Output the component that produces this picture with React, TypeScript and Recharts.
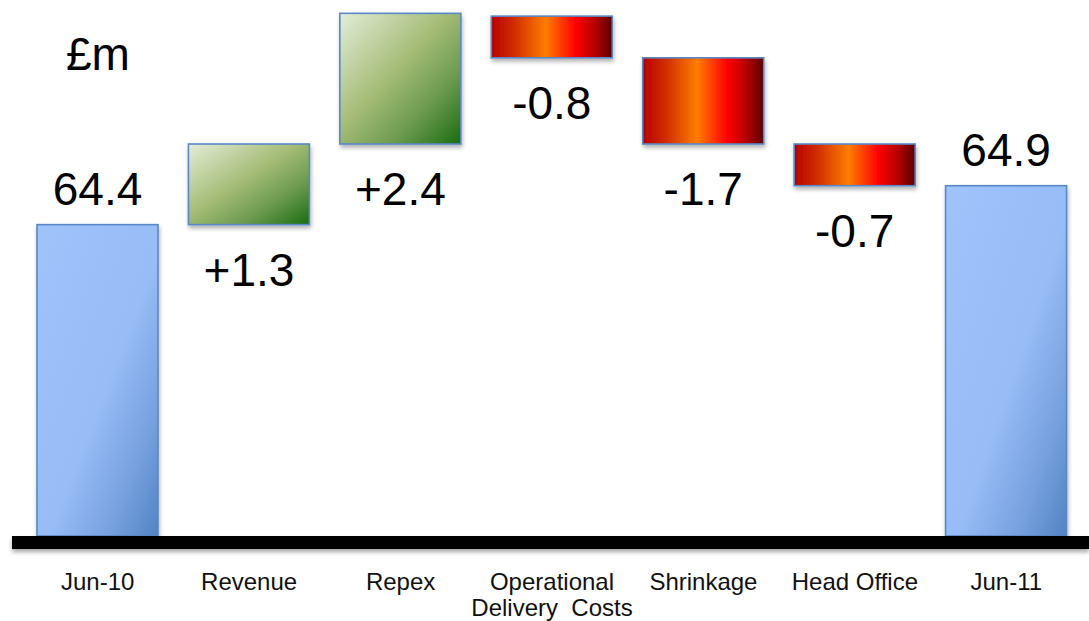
import { BarChart, Bar, XAxis, YAxis, ReferenceLine } from 'recharts';

// Waterfall of £m movements, Jun-10 to Jun-11.
// The vertical axis is broken: it starts at 58.7 so the small steps stay readable.

const categories = ['Jun-10', 'Revenue', 'Repex', 'Operational\nDelivery  Costs', 'Shrinkage', 'Head Office', 'Jun-11'];
const valueLabels = ['64.4', '+1.3', '+2.4', '-0.8', '-1.7', '-0.7', '64.9'];
const kinds = ['total', 'up', 'up', 'down', 'down', 'down', 'total'];
// bar extents (£m, on the broken axis)
const barLow = [58.7, 64.3, 65.75, 67.3, 65.75, 65.0, 58.7];
const barHigh = [64.3, 65.75, 68.1, 68.05, 67.3, 65.75, 65.0];

const Y_DOMAIN: [number, number] = [58.7, 68.34];
const FONT = '"Liberation Sans", Arial, sans-serif';

const data = categories.map((name, i) => ({
  name,
  range: [barLow[i], barHigh[i]],
  label: valueLabels[i],
  kind: kinds[i],
}));

const FILLS: Record<string, string> = {
  total: 'url(#totalGrad)',
  up: 'url(#upGrad)',
  down: 'url(#downGrad)',
};

function WaterfallBar(props: any) {
  const { x, y, width, height, payload } = props;
  const top = Math.min(y, y + height);
  const h = Math.abs(height);
  const isTotal = payload.kind === 'total';
  const labelY = isTotal ? top - 20 : top + h + 61;
  return (
    <g>
      <rect
        x={x}
        y={top}
        width={width}
        height={h}
        fill={FILLS[payload.kind]}
        stroke="#5a87c6"
        strokeWidth={1.6}
        filter="url(#barShadow)"
      />
      <text x={x + width / 2} y={labelY} textAnchor="middle" fontSize={46} fontFamily={FONT} fill="#000">
        {payload.label}
      </text>
    </g>
  );
}

function CategoryTick(props: any) {
  const { x, y, payload } = props;
  const lines = String(payload.value).split('\n');
  return (
    <text x={x} y={y + 54} textAnchor="middle" fontSize={24} fontFamily={FONT} fill="#111">
      {lines.map((line, i) => (
        <tspan key={i} x={x} dy={i === 0 ? 0 : 26} style={{ whiteSpace: 'pre' }}>
          {line}
        </tspan>
      ))}
    </text>
  );
}

function BaseBand(p: any) {
  return (
    <rect
      x={p.x1 - 10}
      y={p.y1}
      width={p.x2 - p.x1 + 17}
      height={13}
      fill="#000"
      filter="url(#bandShadow)"
    />
  );
}

export default function App() {
  return (
    <div style={{ position: 'absolute', left: 0, top: 0, width: 1089, height: 621, background: '#fff' }}>
      <div
        style={{
          position: 'absolute',
          left: 66,
          top: 31,
          fontFamily: FONT,
          fontSize: 46,
          lineHeight: '46px',
          color: '#000',
        }}
      >
        £m
      </div>
      <BarChart width={1089} height={621} data={data} margin={{ top: 0, right: 7, bottom: 0, left: 22 }} barSize={121}>
        <defs>
          <linearGradient id="totalGrad" x1="0" y1="0" x2="1" y2="1">
            <stop offset="0" stopColor="#9fc3fb" />
            <stop offset="0.55" stopColor="#97bcf6" />
            <stop offset="0.8" stopColor="#76a0de" />
            <stop offset="1" stopColor="#5283c3" />
          </linearGradient>
          <linearGradient id="upGrad" x1="0" y1="0" x2="1" y2="1">
            <stop offset="0" stopColor="#e3edd8" />
            <stop offset="0.45" stopColor="#a4bc76" />
            <stop offset="0.72" stopColor="#6b9a4f" />
            <stop offset="1" stopColor="#1a6c10" />
          </linearGradient>
          <linearGradient id="downGrad" x1="0" y1="0" x2="1" y2="0">
            <stop offset="0" stopColor="#b80000" />
            <stop offset="0.2" stopColor="#d23000" />
            <stop offset="0.45" stopColor="#ff7d00" />
            <stop offset="0.58" stopColor="#ff3a00" />
            <stop offset="0.7" stopColor="#ff0000" />
            <stop offset="0.86" stopColor="#b30000" />
            <stop offset="1" stopColor="#580000" />
          </linearGradient>
          <filter id="barShadow" x="-10%" y="-10%" width="130%" height="130%">
            <feDropShadow dx="1" dy="3" stdDeviation="2" floodColor="#000" floodOpacity="0.3" />
          </filter>
          <filter id="bandShadow" x="-5%" y="-50%" width="110%" height="250%">
            <feDropShadow dx="0" dy="3" stdDeviation="2" floodColor="#000" floodOpacity="0.35" />
          </filter>
        </defs>
        <XAxis
          dataKey="name"
          axisLine={false}
          tickLine={false}
          tickSize={0}
          tickMargin={0}
          height={85}
          interval={0}
          tick={<CategoryTick />}
        />
        <YAxis hide domain={Y_DOMAIN} allowDataOverflow />
        <Bar dataKey="range" shape={<WaterfallBar />} isAnimationActive={false} />
        <ReferenceLine y={Y_DOMAIN[0]} shape={<BaseBand />} />
      </BarChart>
    </div>
  );
}
